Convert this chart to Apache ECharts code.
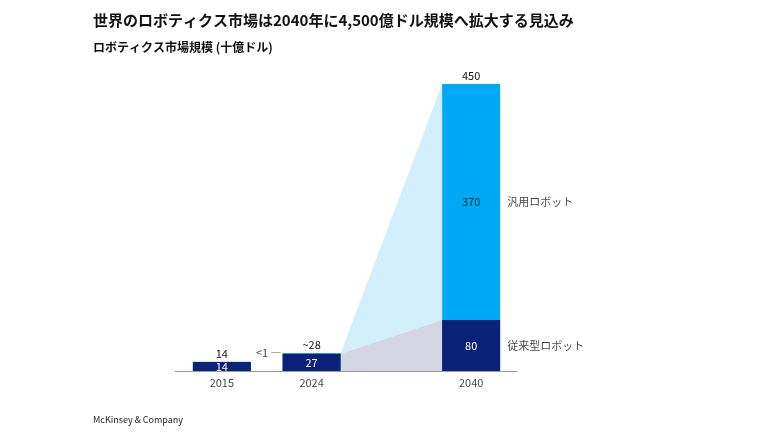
<!DOCTYPE html>
<html><head><meta charset="utf-8">
<script src="https://cdn.jsdelivr.net/npm/echarts@6/dist/echarts.min.js"></script>
<style>body{margin:0}#c{width:770px;height:433px}</style></head>
<body><div id="c"></div>
<script>
// データ
var years = [2015, 2024, 2040];
var conventional = [14, 27, 80];
var generalPurpose = [0.4, 0.8, 370];
var totalLabels = ['14', '~28', '450'];
var generalLabels = ['', '<1', '370'];

var FONT = '"Noto Sans CJK JP", "Noto Sans", sans-serif';
var HALF = 29; // 棒幅の半分 (px)

function total(i) { return conventional[i] + generalPurpose[i]; }

// 2024→2040 の拡大を示す台形
function renderFan(params, api) {
  var c0 = conventional[1], t0 = total(1);
  var c1 = conventional[2], t1 = total(2);
  var a = api.coord([years[1], 0]), b = api.coord([years[2], 0]);
  var x0 = a[0] + HALF, x1 = b[0] - HALF;
  var y = function (v) { return api.coord([years[1], v])[1]; };
  return {
    type: 'group',
    children: [
      { type: 'polygon', shape: { points: [[x0, y(t0)], [x1, y(t1)], [x1, y(c1)], [x0, y(c0)]] },
        style: { fill: '#d3effb' } },
      { type: 'polygon', shape: { points: [[x0, y(c0)], [x1, y(c1)], [x1, y(0)], [x0, y(0)]] },
        style: { fill: '#d4d6e3' } }
    ]
  };
}

function lbl(pos, dist, color) {
  return { show: true, position: pos, distance: dist, fontSize: 11, color: color || '#111' };
}

var chart = echarts.init(document.getElementById('c'));
chart.setOption({
  animation: false,
  textStyle: { fontFamily: FONT },
  title: [
    { text: '世界のロボティクス市場は2040年に4,500億ドル規模へ拡大する見込み', left: 88, top: 8,
      textStyle: { fontSize: 15, fontWeight: 'bold', color: '#111', fontFamily: FONT } },
    { text: 'ロボティクス市場規模 (十億ドル)', left: 88, top: 36,
      textStyle: { fontSize: 12, fontWeight: 'bold', color: '#111', fontFamily: FONT } },
    { text: 'McKinsey & Company', left: 88, top: 410,
      textStyle: { fontSize: 9, fontWeight: 'normal', color: '#222', fontFamily: FONT } }
  ],
  grid: { left: 175, width: 342, top: 84, bottom: 62 },
  xAxis: {
    type: 'value', min: 2010.3, max: 2044.6, splitLine: { show: false },
    axisTick: { show: false }, axisLine: { lineStyle: { color: '#999' } },
    axisLabel: { show: false }
  },
  yAxis: { type: 'value', min: 0, max: 450, show: false },
  series: [
    { type: 'custom', renderItem: renderFan, data: [[2024, 0]], z: 1, silent: true },
    { // 合計 (汎用ロボット部分が見える)
      type: 'bar', barWidth: 58, barGap: '-100%', z: 3,
      data: years.map(function (y, i) { return [y, total(i)]; }),
      itemStyle: { color: '#00a9f4' },
      label: Object.assign(lbl('top', 3), { formatter: function (p) { return totalLabels[p.dataIndex]; } })
    },
    { // 従来型ロボット
      type: 'bar', barWidth: 58, barGap: '-100%', z: 4,
      data: years.map(function (y, i) { return [y, conventional[i]]; }),
      itemStyle: { color: '#0a2277' },
      label: Object.assign(lbl('inside', 0, '#fff'), { formatter: function (p) { return conventional[p.dataIndex]; } })
    },
    {
      type: 'scatter', symbolSize: 0, z: 5, silent: true,
      data: [[years[2], conventional[2] + generalPurpose[2] / 2]],
      label: Object.assign(lbl('inside', 0, '#111'), { formatter: generalLabels[2] })
    },
    {
      type: 'scatter', symbolSize: 0, z: 5, silent: true,
      data: years.map(function (y) { return [y, 0]; }),
      label: Object.assign(lbl('bottom', 6), { formatter: function (p) { return years[p.dataIndex]; } })
    },
    {
      type: 'scatter', symbolSize: 0, z: 5, silent: true,
      data: [[years[1], total(1)]],
      label: Object.assign(lbl('left', 30), { formatter: generalLabels[1] + ' ―' })
    },
    {
      type: 'scatter', symbolSize: 0, z: 5, silent: true,
      data: [[years[2], conventional[2] + generalPurpose[2] / 2], [years[2], conventional[2] / 2]],
      label: Object.assign(lbl('right', 36), {
        formatter: function (p) { return p.dataIndex === 0 ? '汎用ロボット' : '従来型ロボット'; } })
    }
  ]
});
</script></body></html>
